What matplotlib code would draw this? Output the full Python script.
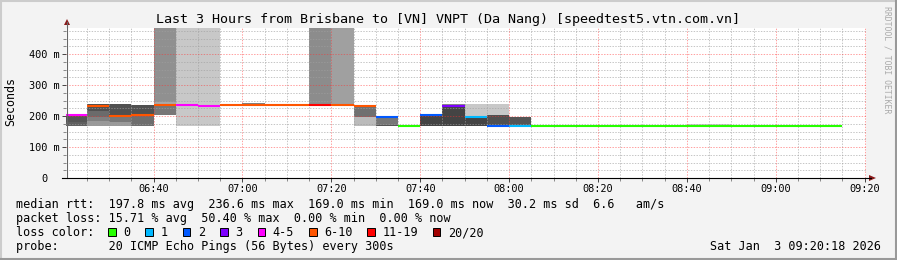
import matplotlib
matplotlib.use("Agg")
import matplotlib.pyplot as plt
from matplotlib.patches import Polygon, Rectangle
from matplotlib.lines import Line2D
from matplotlib.ticker import MultipleLocator

# time axis in minutes after 06:00
t_start = 20.3   # 06:20:18
t_end = 200.3    # 09:20:18
step = 5

# one 300 s step each
step_start = [20, 25, 30, 35, 40, 45, 50, 55, 60, 65, 70, 75, 80, 85, 90, 95,
              100, 105, 110, 115, 120, 125, 130, 135, 140, 145, 150, 155, 160,
              165, 170, 175, 180, 185, 190]
median_ms = [203, 233, 201, 204, 235, 235, 231, 234, 234, 234, 234, 234, 234,
             233, 198, 169, 203, 233, 197, 168, 169, 169, 169, 169, 169, 169,
             169, 169, 169, 169, 169, 169, 169, 169, 169]
loss_idx = [4, 5, 5, 5, 5, 4, 4, 5, 5, 5, 5, 6, 5, 5, 2, 0, 2, 3, 1, 2, 1,
            0, 0, 0, 0, 0, 0, 0, 0, 0, 0, 0, 0, 0, 0]

loss_labels = ["0", "1", "2", "3", "4-5", "6-10", "11-19", "20/20"]
loss_colors = ["#26ff00", "#00b8ff", "#0059ff", "#7e00ff", "#ff00ff",
               "#ff5500", "#ff0000", "#a10000"]

# smoke bands (ping spread): step, low ms, high ms, grey level
smoke_step = [20, 20, 25, 25, 25, 25, 30, 30, 30, 35, 35, 40, 40, 40, 45, 50,
              55, 60, 75, 80, 85, 85, 90, 90, 100, 100, 105, 105, 110, 110,
              115, 115, 120, 160, 165]
smoke_lo = [182, 169, 216, 198, 185, 169, 201, 182, 169, 204, 169, 246, 235,
            203, 169, 169, 234, 234, 236, 236, 198, 169, 171, 169, 169, 203,
            169, 237, 198, 169, 203, 169, 169, 169, 169]
smoke_hi = [201, 182, 238, 216, 198, 185, 238, 201, 182, 237, 204, 484, 246,
            235, 484, 484, 239, 243, 484, 484, 233, 198, 196, 171, 203, 206,
            237, 239, 239, 197, 239, 203, 197, 175, 175]
smoke_grey = [0x55, 0x60, 0x50, 0x6b, 0x80, 0x99, 0x50, 0x77, 0x99, 0x50, 0x6e,
              0x90, 0xa8, 0x77, 0xc8, 0xc8, 0x80, 0x80, 0x8c, 0xa0, 0x70, 0xbb,
              0x77, 0x55, 0x44, 0x70, 0x44, 0x88, 0xc8, 0x44, 0xc8, 0x50, 0x55,
              0xd0, 0xd0]

x_ticks = [40, 60, 80, 100, 120, 140, 160, 180, 200]
x_labels = ["06:40", "07:00", "07:20", "07:40", "08:00", "08:20", "08:40",
            "09:00", "09:20"]
y_ticks = [0, 100, 200, 300, 400]
y_labels = ["0", "100 m", "200 m", "300 m", "400 m"]

title = "Last 3 Hours from Brisbane to [VN] VNPT (Da Nang) [speedtest5.vtn.com.vn]"
legend_lines = [
    "median rtt:  197.8 ms avg  236.6 ms max  169.0 ms min  169.0 ms now  30.2 ms sd  6.6   am/s",
    "packet loss: 15.71 % avg  50.40 % max  0.00 % min  0.00 % now",
    "loss color:",
    "probe:       20 ICMP Echo Pings (56 Bytes) every 300s",
]
stamp = "Sat Jan  3 09:20:18 2026"

MONO = "DejaVu Sans Mono"
W, H = 897, 260
FS = 8.47


def fp(x, y):
    # pixel position -> figure fraction
    return (x / W, 1 - y / H)


fig = plt.figure(figsize=(W / 100, H / 100), dpi=100, facecolor="#f3f3f3")
ax = fig.add_axes([66 / W, 1 - 178 / H, 800 / W, 150 / H])
ax.set_facecolor("white")
ax.set_xlim(t_start, t_end)
ax.set_ylim(0, 484)

# smoke
for s, lo, hi, g in zip(smoke_step, smoke_lo, smoke_hi, smoke_grey):
    ax.bar(s, hi - lo, bottom=lo, width=step, align="edge",
           color="#%02x%02x%02x" % (g, g, g), linewidth=0, zorder=1)

# median rtt coloured by loss
for s, m, li in zip(step_start, median_ms, loss_idx):
    ax.hlines(m, s, s + step, colors=loss_colors[li], linewidth=1.5, zorder=3)

# ticks and grid
ax.set_xticks(x_ticks)
ax.set_xticklabels(x_labels)
ax.set_yticks(y_ticks)
ax.set_yticklabels(y_labels)
ax.xaxis.set_minor_locator(MultipleLocator(5))
ax.yaxis.set_minor_locator(MultipleLocator(25))

for sp in ax.spines.values():
    sp.set_visible(False)

ax.tick_params(axis="x", which="major", direction="out", length=3, width=0.7,
               color="#444444", pad=1.5, labelsize=7.4)
ax.tick_params(axis="x", which="minor", direction="out", length=2, width=0.7,
               color="#888888")
ax.tick_params(axis="y", which="major", direction="out", length=3, width=0.7,
               color="#444444", pad=12.5, labelsize=7.4)
ax.tick_params(axis="y", which="minor", direction="out", length=2, width=0.7,
               color="#888888")
for lab in ax.get_xticklabels() + ax.get_yticklabels():
    lab.set_family(MONO)
for lab in ax.get_yticklabels():
    lab.set_horizontalalignment("center")

# dotted grid drawn over the smoke
minor_x = [v for v in ax.xaxis.get_minorticklocs() if v not in x_ticks]
minor_y = [v for v in ax.yaxis.get_minorticklocs() if v not in y_ticks]
grid_minor = dict(color="#a0a0a0", alpha=0.6, linewidth=0.72,
                  dashes=(1.4, 1.4), zorder=2)
grid_major = dict(color="#ff3030", alpha=0.45, linewidth=0.72,
                  dashes=(1.4, 1.4), zorder=2)
for v in minor_x:
    ax.axvline(v, **grid_minor)
for v in minor_y:
    ax.axhline(v, **grid_minor)
for v in x_ticks:
    ax.axvline(v, **grid_major)
for v in y_ticks[1:]:
    ax.axhline(v, **grid_major)

# axis lines with arrows
fig.add_artist(Line2D(*zip(fp(67, 178), fp(67, 22)), color="#666666", linewidth=0.8))
fig.add_artist(Line2D(*zip(fp(62, 178), fp(871, 178)), color="black", linewidth=0.8))
arrow_c = "#8b1a1a"
fig.add_artist(Polygon([fp(64, 25), fp(70, 25), fp(67, 19)], closed=True,
                       facecolor=arrow_c, edgecolor="none", transform=fig.transFigure))
fig.add_artist(Polygon([fp(869, 175), fp(869, 181), fp(876, 178)], closed=True,
                       facecolor=arrow_c, edgecolor="none", transform=fig.transFigure))

# texts
fig.text(*fp(448, 19), title, family=MONO, fontsize=9.6, ha="center", va="center")
fig.text(*fp(11, 102), "Seconds", family=MONO, fontsize=8.4, rotation=90,
         ha="center", va="center")
fig.text(*fp(887, 60), "RRDTOOL / TOBI OETIKER", family=MONO, fontsize=5.9,
         rotation=270, ha="center", va="center", color="#aaaaaa")

baselines = [208, 222, 236, 250]
for txt, yb in zip(legend_lines, baselines):
    fig.text(*fp(16, yb), txt, family=MONO, fontsize=FS, ha="left", va="baseline")
fig.text(*fp(881, baselines[3]), stamp, family=MONO, fontsize=FS, ha="right",
         va="baseline")

# loss colour swatches
xb = 108
for lab, col in zip(loss_labels, loss_colors):
    fig.add_artist(Rectangle(fp(xb, 236), 7.5 / W, 8.5 / H, facecolor=col,
                             edgecolor="black", linewidth=0.7,
                             transform=fig.transFigure))
    fig.text(*fp(xb + 15, baselines[2]), lab, family=MONO, fontsize=FS,
             ha="left", va="baseline")
    xb = xb + 15 + 7 * len(lab) + 15.4

# frame
fig.add_artist(Line2D([0, 1], [1 - 1 / H, 1 - 1 / H], color="#cccccc", linewidth=1.5))
fig.add_artist(Line2D([1 / W, 1 / W], [0, 1], color="#cccccc", linewidth=1.5))
fig.add_artist(Line2D([0, 1], [1 / H, 1 / H], color="#999999", linewidth=1.5))
fig.add_artist(Line2D([1 - 1 / W, 1 - 1 / W], [0, 1], color="#999999", linewidth=1.5))

fig.savefig("out.png", dpi=100, facecolor=fig.get_facecolor())
